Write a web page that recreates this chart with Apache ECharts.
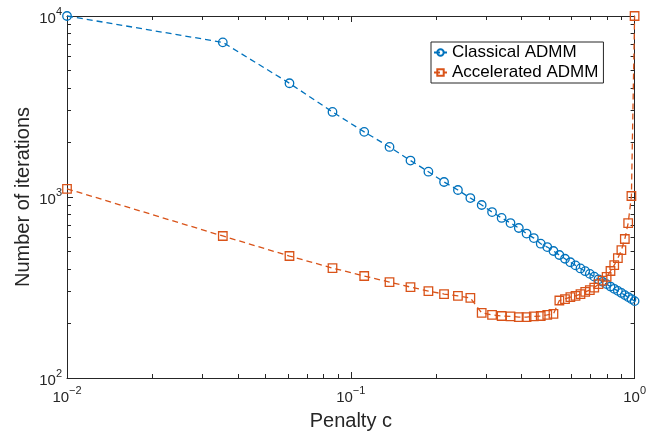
<!DOCTYPE html>
<html><head><meta charset="utf-8">
<script src="https://cdn.jsdelivr.net/npm/echarts@6/dist/echarts.min.js"></script>
<style>html,body{margin:0;padding:0;background:#fff}#c{width:649px;height:437px}</style>
</head><body><div id="c"></div>
<script>
// Penalty values (x)
const penalty = [0.0100,0.0354,0.0608,0.0862,0.1115,0.1369,0.1623,0.1877,0.2131,0.2385,
  0.2638,0.2892,0.3146,0.3400,0.3654,0.3908,0.4162,0.4415,0.4669,0.4923,
  0.5177,0.5431,0.5685,0.5938,0.6192,0.6446,0.6700,0.6954,0.7208,0.7462,
  0.7715,0.7969,0.8223,0.8477,0.8731,0.8985,0.9238,0.9492,0.9746,1.0000];
// Number of iterations
const classical = [10000,7150,4250,2950,2290,1890,1590,1380,1210,1093,
  987,903,826,766,718,674,628,593,552,529,
  503,478,456,436,419,403,389,376,363,351,
  340,330,320,311,303,295,287,280,273,266];
const accelerated = [1110,609,472,405,366,339,318,302,291,284,
  277,229,223,220,219,217,217,219,220,223,
  226,268,273,280,284,291,299,306,316,330,
  345,362,390,420,460,509,586,718,1013,10000];
const seriesNames = ['Classical ADMM','Accelerated ADMM'];
const xMajorTicks = [0.01,0.1,1];
const xMinorTicks = [0.02,0.03,0.04,0.05,0.06,0.07,0.08,0.09,0.2,0.3,0.4,0.5,0.6,0.7,0.8,0.9];
const yMajorTicks = [100,1000,10000];
const yMinorTicks = [200,300,400,500,600,700,800,900,2000,3000,4000,5000,6000,7000,8000,9000];

const AX = '#262626';
const FONT = 'Liberation Sans';
const BLUE = '#0072BD';
const ORANGE = '#D95319';
const lg = v => Math.log10(v);

function supFormatter(v){
  const e = Math.round(Math.log10(v));
  return '{b|10}{s|' + (e < 0 ? '\u2212' + (-e) : e) + '}';
}
const rich = {
  b:{fontSize:15, fontFamily:FONT, color:AX, padding:[5,0,0,0]},
  s:{fontSize:11, fontFamily:FONT, color:AX, verticalAlign:'top', lineHeight:11}
};

function deco(pos, ticks, len, lo, hi, showLine){
  return {type:'value', position:pos, min:lo, max:hi,
    axisLine:{show:showLine, onZero:false, lineStyle:{color:AX,width:1}},
    axisTick:{show:true, inside:true, length:len, customValues:ticks.map(lg), lineStyle:{color:AX,width:1}},
    axisLabel:{show:false}, splitLine:{show:false}};
}

const chart = echarts.init(document.getElementById('c'), null, {renderer:'canvas'});
chart.setOption({
  animation:false,
  backgroundColor:'#fff',
  grid:{left:67, right:12, top:16, bottom:59},
  legend:{orient:'vertical', left:431, top:42, itemWidth:13, itemHeight:8, itemGap:3,
    padding:[2,5,2,2], borderColor:AX, borderWidth:1, backgroundColor:'#fff',
    textStyle:{fontSize:17, color:'#000', fontFamily:FONT}, data:seriesNames},
  xAxis:[
    {type:'log', logBase:10, min:xMajorTicks[0], max:xMajorTicks[2], position:'bottom',
     name:'Penalty c', nameLocation:'middle', nameGap:33, nameMoveOverlap:false,
     nameTextStyle:{fontSize:20, fontFamily:FONT, color:AX},
     axisLine:{show:true, onZero:false, lineStyle:{color:AX,width:1}},
     axisTick:{show:true, inside:true, length:6, lineStyle:{color:AX,width:1}},
     axisLabel:{show:true, margin:7, fontSize:15, fontFamily:FONT, color:AX, formatter:supFormatter, rich:rich},
     splitLine:{show:false}},
    deco('bottom', xMinorTicks, 4, -2, 0, false),
    deco('top', xMajorTicks, 6, -2, 0, true),
    deco('top', xMinorTicks, 4, -2, 0, false)
  ],
  yAxis:[
    {type:'log', logBase:10, min:yMajorTicks[0], max:yMajorTicks[2], position:'left',
     name:'Number of iterations', nameLocation:'middle', nameGap:34, nameMoveOverlap:false,
     nameTextStyle:{fontSize:20, fontFamily:FONT, color:AX},
     axisLine:{show:true, onZero:false, lineStyle:{color:AX,width:1}},
     axisTick:{show:true, inside:true, length:6, lineStyle:{color:AX,width:1}},
     axisLabel:{show:true, margin:5, fontSize:15, fontFamily:FONT, color:AX, formatter:supFormatter, rich:rich},
     splitLine:{show:false}},
    deco('left', yMinorTicks, 4, 2, 4, false),
    deco('right', yMajorTicks, 6, 2, 4, true),
    deco('right', yMinorTicks, 4, 2, 4, false)
  ],
  series:[
    {type:'line', name:seriesNames[0], xAxisIndex:0, yAxisIndex:0, clip:false,
     data:penalty.map((x,i)=>[x, classical[i]]),
     symbol:'circle', symbolSize:8.5,
     itemStyle:{color:'rgba(255,255,255,0)', borderColor:BLUE, borderWidth:1.3},
     lineStyle:{color:BLUE, width:1.3, type:[6,4]}, z:3},
    {type:'line', name:seriesNames[1], xAxisIndex:0, yAxisIndex:0, clip:false,
     data:penalty.map((x,i)=>[x, accelerated[i]]),
     symbol:'rect', symbolSize:8.5,
     itemStyle:{color:'rgba(255,255,255,0)', borderColor:ORANGE, borderWidth:1.3},
     lineStyle:{color:ORANGE, width:1.3, type:[6,4]}, z:3}
  ]
});
</script></body></html>
